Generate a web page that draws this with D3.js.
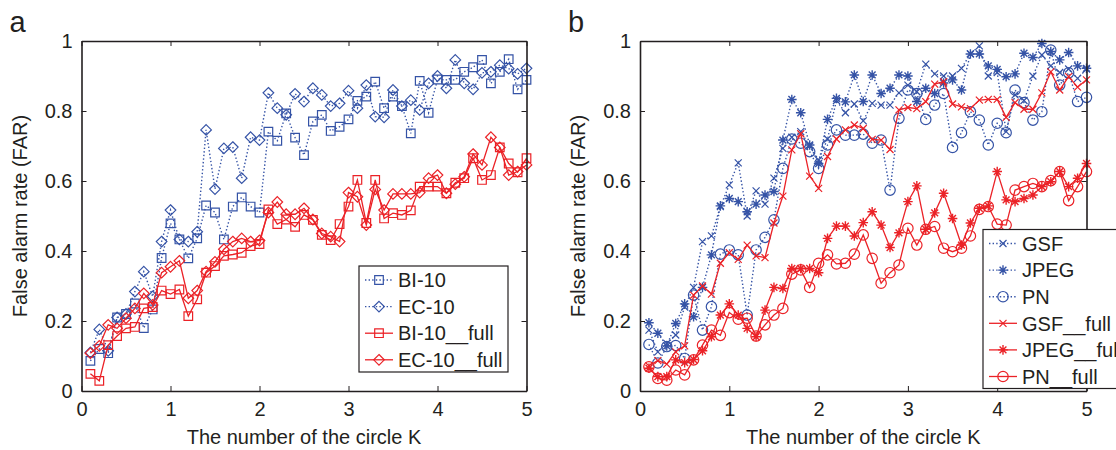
<!DOCTYPE html>
<html lang="en">
<head>
<meta charset="UTF-8">
<title>False alarm rate vs K</title>
<script src="https://cdn.jsdelivr.net/npm/d3@7"></script>
<style>
  body { margin: 0; background: #fff; }
  text { font-family: Arial, "Liberation Sans", Helvetica, sans-serif; fill: #231f20; }
</style>
</head>
<body>
<script>

// K = 0.1 ... 5.0
var K = d3.range(1, 51).map(function (i) { return i / 10; });
var xTicks = [0, 1, 2, 3, 4, 5];
var yTicks = [0, 0.2, 0.4, 0.6, 0.8, 1];
var yTickLabels = ["0", "0.2", "0.4", "0.6", "0.8", "1"];

// panel a
var bi10 = [0.086, 0.12, 0.108, 0.21, 0.22, 0.25, 0.18, 0.233, 0.38, 0.479,
  0.433, 0.379, 0.436, 0.53, 0.51, 0.433, 0.527, 0.553, 0.527, 0.51,
  0.741, 0.715, 0.793, 0.724, 0.674, 0.77, 0.789, 0.743, 0.755, 0.776,
  0.829, 0.841, 0.884, 0.808, 0.841, 0.814, 0.736, 0.886, 0.795, 0.89,
  0.889, 0.889, 0.912, 0.925, 0.946, 0.879, 0.912, 0.948, 0.862, 0.889];
var ec10 = [0.11, 0.176, 0.115, 0.21, 0.22, 0.284, 0.341, 0.27, 0.427, 0.517,
  0.433, 0.427, 0.455, 0.746, 0.577, 0.693, 0.697, 0.608, 0.725, 0.717,
  0.852, 0.808, 0.789, 0.849, 0.827, 0.865, 0.846, 0.814, 0.822, 0.858,
  0.808, 0.874, 0.784, 0.782, 0.86, 0.814, 0.831, 0.803, 0.879, 0.9,
  0.865, 0.946, 0.879, 0.862, 0.909, 0.912, 0.931, 0.921, 0.906, 0.922];
var bi10Full = [0.049, 0.029, 0.131, 0.157, 0.179, 0.183, 0.236, 0.24, 0.287, 0.277,
  0.29, 0.214, 0.262, 0.338, 0.357, 0.386, 0.39, 0.395, 0.414, 0.42,
  0.519, 0.477, 0.49, 0.469, 0.503, 0.489, 0.446, 0.431, 0.477, 0.527,
  0.603, 0.48, 0.603, 0.493, 0.508, 0.503, 0.516, 0.584, 0.584, 0.584,
  0.565, 0.595, 0.608, 0.665, 0.603, 0.617, 0.696, 0.65, 0.625, 0.665];
var ec10Full = [0.108, 0.129, 0.189, 0.179, 0.208, 0.236, 0.279, 0.246, 0.338, 0.355,
  0.372, 0.265, 0.287, 0.341, 0.369, 0.405, 0.427, 0.436, 0.427, 0.43,
  0.51, 0.54, 0.505, 0.505, 0.522, 0.49, 0.45, 0.441, 0.427, 0.567,
  0.555, 0.474, 0.576, 0.517, 0.563, 0.563, 0.563, 0.567, 0.608, 0.617,
  0.565, 0.591, 0.612, 0.677, 0.646, 0.725, 0.696, 0.617, 0.627, 0.646];

// panel b
var gsf = [0.174, 0.112, 0.136, 0.16, 0.24, 0.296, 0.427, 0.443, 0.527, 0.589,
  0.652, 0.5, 0.572, 0.534, 0.608, 0.693, 0.725, 0.741, 0.7, 0.66,
  0.72, 0.83, 0.795, 0.82, 0.772, 0.822, 0.817, 0.817, 0.852, 0.874,
  0.855, 0.934, 0.906, 0.9, 0.9, 0.922, 0.963, 0.986, 0.9, 0.91,
  0.741, 0.846, 0.83, 0.9, 0.96, 0.929, 0.91, 0.92, 0.893, 0.92];
var jpeg = [0.195, 0.165, 0.129, 0.193, 0.249, 0.212, 0.296, 0.389, 0.529, 0.55,
  0.541, 0.512, 0.534, 0.56, 0.57, 0.717, 0.833, 0.795, 0.703, 0.65,
  0.776, 0.836, 0.826, 0.903, 0.827, 0.903, 0.85, 0.865, 0.903, 0.9,
  0.827, 0.865, 0.85, 0.88, 0.889, 0.86, 0.963, 0.963, 0.929, 0.919,
  0.898, 0.906, 0.965, 0.953, 0.993, 0.97, 0.946, 0.967, 0.929, 0.922];
var pn = [0.133, 0.08, 0.127, 0.13, 0.093, 0.274, 0.174, 0.241, 0.391, 0.403,
  0.389, 0.217, 0.403, 0.439, 0.489, 0.636, 0.72, 0.708, 0.684, 0.636,
  0.703, 0.746, 0.731, 0.731, 0.734, 0.708, 0.717, 0.574, 0.779, 0.86,
  0.85, 0.776, 0.817, 0.85, 0.696, 0.738, 0.798, 0.774, 0.703, 0.765,
  0.738, 0.86, 0.824, 0.774, 0.798, 0.974, 0.874, 0.909, 0.827, 0.839];
var gsfFull = [0.072, 0.087, 0.077, 0.112, 0.129, 0.274, 0.3, 0.277, 0.365, 0.395,
  0.376, 0.417, 0.386, 0.381, 0.48, 0.557, 0.689, 0.735, 0.614, 0.579,
  0.67, 0.72, 0.746, 0.76, 0.75, 0.719, 0.717, 0.69, 0.803, 0.81,
  0.807, 0.827, 0.877, 0.884, 0.82, 0.812, 0.807, 0.831, 0.833, 0.833,
  0.782, 0.824, 0.805, 0.805, 0.852, 0.912, 0.86, 0.898, 0.868, 0.889];
var jpegFull = [0.065, 0.041, 0.041, 0.089, 0.081, 0.09, 0.115, 0.155, 0.217, 0.249,
  0.217, 0.179, 0.155, 0.231, 0.296, 0.293, 0.35, 0.35, 0.35, 0.338,
  0.436, 0.471, 0.471, 0.443, 0.481, 0.512, 0.474, 0.41, 0.452, 0.541,
  0.586, 0.462, 0.509, 0.565, 0.493, 0.417, 0.48, 0.522, 0.529, 0.627,
  0.546, 0.541, 0.55, 0.56, 0.584, 0.598, 0.627, 0.584, 0.608, 0.65];
var pnFull = [0.069, 0.036, 0.031, 0.06, 0.046, 0.089, 0.131, 0.174, 0.159, 0.224,
  0.205, 0.208, 0.157, 0.189, 0.217, 0.236, 0.334, 0.346, 0.296, 0.365,
  0.389, 0.363, 0.365, 0.391, 0.446, 0.379, 0.308, 0.338, 0.36, 0.465,
  0.417, 0.462, 0.47, 0.408, 0.398, 0.408, 0.443, 0.519, 0.527, 0.477,
  0.474, 0.574, 0.584, 0.593, 0.584, 0.601, 0.627, 0.544, 0.584, 0.627];

var blue = "#3553a6", red = "#eb2227", ink = "#231f20";
var top_ = 41, bottom = 391;

var svg = d3.select("body").append("svg")
  .attr("width", 1116)
  .attr("height", 450);

function markerPath(type) {
  if (type == "square") return "M-4.3,-4.3h8.6v8.6h-8.6Z";
  if (type == "diamond") return "M0,-5.3L5.3,0L0,5.3L-5.3,0Z";
  if (type == "x") return "M-3.5,-3.5L3.5,3.5M-3.5,3.5L3.5,-3.5";
  if (type == "star") return "M-4.8,0H4.8M0,-4.8V4.8M-3.4,-3.4L3.4,3.4M-3.4,3.4L3.4,-3.4";
  if (type == "circle") return "M5.2,0A5.2,5.2 0 1,1 -5.2,0A5.2,5.2 0 1,1 5.2,0Z";
}

function drawPanel(left, right, letter, series, leg) {
  var x = d3.scaleLinear().domain([0, 5]).range([left, right]);
  var y = d3.scaleLinear().domain([0, 1]).range([bottom, top_]);
  var g = svg.append("g");

  var line = d3.line()
    .x(function (d) { return x(d[0]); })
    .y(function (d) { return y(d[1]); });

  series.forEach(function (s) {
    var pts = K.map(function (k, i) { return [k, s.values[i]]; });
    g.append("path")
      .attr("d", line(pts))
      .attr("fill", "none")
      .attr("stroke", s.color)
      .attr("stroke-width", s.dotted ? 1.4 : 1.3)
      .attr("stroke-dasharray", s.dotted ? "1.4,2.2" : null);
    g.selectAll(null)
      .data(pts)
      .enter().append("path")
      .attr("transform", function (d) { return "translate(" + x(d[0]) + "," + y(d[1]) + ")"; })
      .attr("d", markerPath(s.marker))
      .attr("fill", "none")
      .attr("stroke", s.color)
      .attr("stroke-width", s.marker == "star" ? 1.4 : 1.2);
  });

  // axes, MATLAB style: ticks inward on all four sides
  var ax = [
    g.append("g").attr("transform", "translate(0," + bottom + ")")
      .call(d3.axisBottom(x).tickValues(xTicks).tickFormat(d3.format("d"))
        .tickSizeInner(-5).tickSizeOuter(0).tickPadding(11)),
    g.append("g").attr("transform", "translate(0," + top_ + ")")
      .call(d3.axisTop(x).tickValues(xTicks).tickFormat("")
        .tickSizeInner(-5).tickSizeOuter(0)),
    g.append("g").attr("transform", "translate(" + left + ",0)")
      .call(d3.axisLeft(y).tickValues(yTicks)
        .tickFormat(function (d, i) { return yTickLabels[i]; })
        .tickSizeInner(-5).tickSizeOuter(0).tickPadding(9)),
    g.append("g").attr("transform", "translate(" + right + ",0)")
      .call(d3.axisRight(y).tickValues(yTicks).tickFormat("")
        .tickSizeInner(-5).tickSizeOuter(0))
  ];
  ax.forEach(function (a) {
    a.attr("font-family", null).attr("font-size", 20);
    a.select(".domain").attr("stroke", ink).attr("stroke-width", 1.6);
    a.selectAll(".tick line").attr("stroke", ink).attr("stroke-width", 1);
    a.selectAll(".tick text").attr("fill", ink);
  });

  g.append("text")
    .attr("x", (left + right) / 2)
    .attr("y", 444)
    .attr("text-anchor", "middle")
    .attr("font-size", 20)
    .text("The number of the circle K");

  g.append("text")
    .attr("transform", "translate(" + (left - 62) + "," + ((top_ + bottom) / 2) + ") rotate(-90)")
    .attr("dy", "0.35em")
    .attr("text-anchor", "middle")
    .attr("font-size", 20)
    .text("False alarm rate (FAR)");

  g.append("text")
    .attr("x", left - 72)
    .attr("y", 32)
    .attr("font-size", 29)
    .text(letter);

  // legend (panel b's box runs past the right edge, as in the original figure)
  var lg = g.append("g");
  lg.append("rect")
    .attr("x", leg.x).attr("y", leg.y)
    .attr("width", leg.w).attr("height", leg.h)
    .attr("fill", "#fff")
    .attr("stroke", ink)
    .attr("stroke-width", 1.2);
  series.forEach(function (s, i) {
    var cy = leg.y + 14 + i * 26.6;
    lg.append("line")
      .attr("x1", leg.x + 6).attr("x2", leg.x + 34)
      .attr("y1", cy).attr("y2", cy)
      .attr("stroke", s.color)
      .attr("stroke-width", s.dotted ? 1.4 : 1.3)
      .attr("stroke-dasharray", s.dotted ? "1.4,2.2" : null);
    lg.append("path")
      .attr("transform", "translate(" + (leg.x + 20) + "," + cy + ")")
      .attr("d", markerPath(s.marker))
      .attr("fill", "none")
      .attr("stroke", s.color)
      .attr("stroke-width", s.marker == "star" ? 1.4 : 1.2);
    lg.append("text")
      .attr("x", leg.x + 39)
      .attr("y", cy)
      .attr("dy", "0.36em")
      .attr("font-size", 20)
      .text(s.name);
  });
}

drawPanel(81.5, 526.5, "a", [
  { name: "BI-10", values: bi10, color: blue, dotted: true, marker: "square" },
  { name: "EC-10", values: ec10, color: blue, dotted: true, marker: "diamond" },
  { name: "BI-10__full", values: bi10Full, color: red, dotted: false, marker: "square" },
  { name: "EC-10__full", values: ec10Full, color: red, dotted: false, marker: "diamond" }
], { x: 359, y: 266, w: 149, h: 106 });

drawPanel(640, 1086.5, "b", [
  { name: "GSF", values: gsf, color: blue, dotted: true, marker: "x" },
  { name: "JPEG", values: jpeg, color: blue, dotted: true, marker: "star" },
  { name: "PN", values: pn, color: blue, dotted: true, marker: "circle" },
  { name: "GSF__full", values: gsfFull, color: red, dotted: false, marker: "x" },
  { name: "JPEG__full", values: jpegFull, color: red, dotted: false, marker: "star" },
  { name: "PN__full", values: pnFull, color: red, dotted: false, marker: "circle" }
], { x: 983, y: 229.5, w: 150, h: 159 });

</script>
</body>
</html>
